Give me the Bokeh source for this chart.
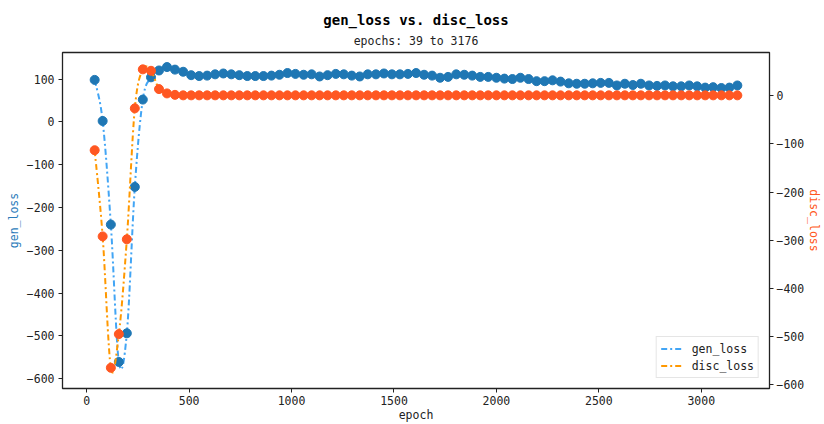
from bokeh.plotting import figure
from bokeh.models import (Range1d, LinearAxis, FixedTicker, CustomJSTickFormatter,
                          Title, Legend, LegendItem, ColumnDataSource)
from bokeh.embed import file_html
from bokeh.resources import INLINE

# ---------------- data ----------------
epochs = [39, 78, 118, 157, 196, 235, 274, 314, 353, 392,
          431, 471, 510, 549, 588, 627, 667, 706, 745, 784,
          823, 863, 902, 941, 980, 1019, 1059, 1098, 1137, 1176,
          1216, 1255, 1294, 1333, 1372, 1412, 1451, 1490, 1529, 1568,
          1608, 1647, 1686, 1725, 1764, 1804, 1843, 1882, 1921, 1960,
          2000, 2039, 2078, 2117, 2157, 2196, 2235, 2274, 2313, 2353,
          2392, 2431, 2470, 2509, 2549, 2588, 2627, 2666, 2705, 2745,
          2784, 2823, 2862, 2902, 2941, 2980, 3019, 3058, 3098, 3137,
          3176]

gen_loss = [98, 2, -240, -561, -494, -152, 52, 104, 120, 128,
            122, 117, 109, 107, 108, 111, 113, 111, 109, 107,
            107, 107, 108, 110, 114, 112, 110, 111, 106, 109,
            112, 111, 108, 106, 111, 111, 113, 111, 111, 112,
            114, 110, 108, 103, 105, 111, 110, 108, 105, 105,
            103, 101, 100, 103, 100, 95, 95, 97, 94, 90,
            89, 89, 90, 91, 91, 85, 89, 86, 89, 85,
            84, 85, 83, 83, 85, 83, 80, 81, 79, 80,
            85]

disc_loss = [-113, -292, -565, -495, -298, -26, 55, 52, 14, 5,
             2, 1, 1, 1, 1, 1, 1, 1, 1, 1,
             1, 1, 1, 1, 1, 1, 1, 1, 1, 1,
             1, 1, 1, 1, 1, 1, 1, 1, 1, 1,
             1, 1, 1, 1, 1, 1, 1, 1, 1, 1,
             1, 1, 1, 1, 1, 1, 1, 1, 1, 1,
             1, 1, 1, 1, 1, 1, 1, 1, 1, 1,
             1, 1, 1, 1, 1, 1, 1, 1, 1, 1,
             1]

x_ticks = [0, 500, 1000, 1500, 2000, 2500, 3000]
gen_ticks = [100, 0, -100, -200, -300, -400, -500, -600]
disc_ticks = [0, -100, -200, -300, -400, -500, -600]

FONT = "DejaVu Sans Mono"
GEN_LINE = "#42a5f5"
GEN_MARK = "#1f77b4"
DISC_LINE = "#ff9800"
DISC_MARK = "#ff5722"
DASH = "6 3 2 3"


def smooth_segments(xs, ys):
    """Cubic Bezier segments (Catmull-Rom) joining consecutive data points."""
    n = len(xs)
    d = dict(x0=[], y0=[], x1=[], y1=[], cx0=[], cy0=[], cx1=[], cy1=[])
    for i in range(n - 1):
        i0, i3 = max(i - 1, 0), min(i + 2, n - 1)
        d["x0"].append(xs[i]); d["y0"].append(ys[i])
        d["x1"].append(xs[i + 1]); d["y1"].append(ys[i + 1])
        d["cx0"].append(xs[i] + (xs[i + 1] - xs[i0]) / 6.0)
        d["cy0"].append(ys[i] + (ys[i + 1] - ys[i0]) / 6.0)
        d["cx1"].append(xs[i + 1] - (xs[i3] - xs[i]) / 6.0)
        d["cy1"].append(ys[i + 1] - (ys[i3] - ys[i]) / 6.0)
    return ColumnDataSource(d)


p = figure(width=824, height=424, output_backend="svg", toolbar_location=None,
           title=None, x_range=Range1d(-118, 3333), y_range=Range1d(-623, 162),
           min_border_left=62, min_border_right=48, min_border_top=52,
           min_border_bottom=31, background_fill_color="white",
           border_fill_color="white")
p.extra_y_ranges = {"disc": Range1d(-608, 90)}
p.xgrid.visible = False
p.ygrid.visible = False
p.outline_line_color = "#222222"
p.outline_line_width = 1.3

minus_fmt = CustomJSTickFormatter(
    code="return (tick < 0 ? '\u2212' : '') + Math.abs(tick).toString();")


def style_axis(ax, ticks):
    ax.ticker = FixedTicker(ticks=ticks)
    ax.formatter = minus_fmt
    ax.axis_line_color = None
    ax.major_tick_in = 0
    ax.major_tick_out = 4
    ax.major_tick_line_color = "#222222"
    ax.minor_tick_line_color = None
    ax.major_label_text_font = FONT
    ax.major_label_text_font_size = "11.5px"
    ax.major_label_text_color = "#222222"
    ax.major_label_standoff = 4
    ax.axis_label_text_font = FONT
    ax.axis_label_text_font_size = "11.5px"
    ax.axis_label_text_font_style = "normal"
    ax.axis_label_standoff = 3


style_axis(p.xaxis[0], x_ticks)
p.xaxis[0].major_label_standoff = 3
p.xaxis[0].axis_label = "epoch"
p.xaxis[0].axis_label_text_color = "#222222"
p.xaxis[0].axis_label_standoff = 0

style_axis(p.yaxis[0], gen_ticks)
p.yaxis[0].axis_label = "gen_loss"
p.yaxis[0].axis_label_text_color = "#2b7bba"

right_ax = LinearAxis(y_range_name="disc")
style_axis(right_ax, disc_ticks)
right_ax.major_label_standoff = 3
right_ax.axis_label = "disc_loss"
right_ax.axis_label_text_color = DISC_MARK
right_ax.axis_label_standoff = 0
if "axis_label_orientation" in right_ax.properties():
    right_ax.axis_label_orientation = "vertical"
p.add_layout(right_ax, "right")

# gen series
p.bezier(x0="x0", y0="y0", x1="x1", y1="y1", cx0="cx0", cy0="cy0",
         cx1="cx1", cy1="cy1", source=smooth_segments(epochs, gen_loss),
         line_color=GEN_LINE, line_width=2, line_dash=DASH)
p.scatter(epochs, gen_loss, size=9, color=GEN_MARK)

# disc series
p.bezier(x0="x0", y0="y0", x1="x1", y1="y1", cx0="cx0", cy0="cy0",
         cx1="cx1", cy1="cy1", source=smooth_segments(epochs, disc_loss),
         line_color=DISC_LINE, line_width=2, line_dash=DASH,
         y_range_name="disc")
p.scatter(epochs, disc_loss, size=9, color=DISC_MARK, y_range_name="disc")

# legend proxies (single point lines: draw nothing on the plot)
lg_gen = p.line(x=epochs[:1], y=gen_loss[:1], line_color=GEN_LINE,
                line_width=2, line_dash=DASH)
lg_disc = p.line(x=epochs[:1], y=disc_loss[:1], line_color=DISC_LINE,
                 line_width=2, line_dash=DASH, y_range_name="disc")
legend = Legend(items=[LegendItem(label="gen_loss", renderers=[lg_gen]),
                       LegendItem(label="disc_loss", renderers=[lg_disc])],
                location="bottom_right", margin=10, padding=4, spacing=2,
                glyph_width=23, glyph_height=15, label_height=15,
                label_standoff=8, label_text_font=FONT,
                label_text_font_size="11.5px", label_text_color="#222222",
                border_line_color="#cccccc", border_line_width=1,
                background_fill_alpha=0.85)
p.add_layout(legend, "center")

# titles (subtitle nearest the plot)
p.add_layout(Title(text="epochs: 39 to 3176", align="center", text_font=FONT,
                   text_font_size="11.5px", text_font_style="normal",
                   text_color="#222222", standoff=9), "above")
p.add_layout(Title(text="gen_loss vs. disc_loss", align="center", text_font=FONT,
                   text_font_size="14px", text_font_style="bold",
                   text_color="#000000", standoff=0), "above")

open("out.html", "w").write(file_html(p, INLINE))
